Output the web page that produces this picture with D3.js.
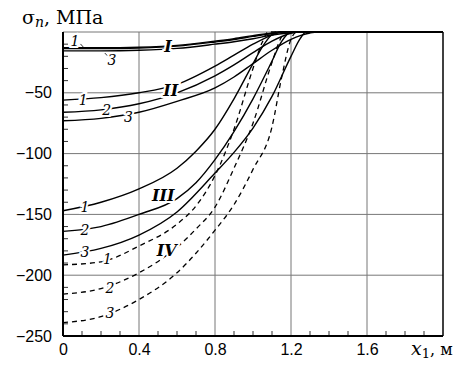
<!DOCTYPE html>
<html>
<head>
<meta charset="utf-8">
<script src="https://cdn.jsdelivr.net/npm/d3@7"></script>
<style>
  body { margin: 0; background: #fff; }
  svg { display: block; }
</style>
</head>
<body>
<svg id="chart" width="466" height="369"></svg>
<script>
// tick labels
const xTicks = [0, 0.4, 0.8, 1.2, 1.6];
const yTicks = [-50, -100, -150, -200, -250];

// curves: [x1, sigma_n]
const curveI1 = [[0,-13],[0.2,-13],[0.4,-12.5],[0.6,-11],[0.8,-7.5],[0.9,-5.5],[1.0,-3],[1.1,-0.8],[1.15,0],[2,0]];
const curveI2 = [[0,-13.6],[0.2,-13.6],[0.4,-13.1],[0.6,-11.6],[0.8,-8.2],[0.9,-6.2],[1.0,-3.6],[1.1,-1.2],[1.17,0],[2,0]];
const curveI3 = [[0,-15.5],[0.2,-15.5],[0.4,-15],[0.6,-13.5],[0.8,-10],[0.9,-8],[1.0,-5.5],[1.1,-2.5],[1.2,-0.6],[1.25,0],[2,0]];

const curveII1 = [[0,-56],[0.2,-54],[0.4,-50],[0.6,-43],[0.8,-28],[0.9,-19],[1.0,-10],[1.1,-2.5],[1.15,0],[2,0]];
const curveII2 = [[0,-66],[0.2,-64],[0.4,-59],[0.6,-50],[0.8,-36],[0.9,-27],[1.0,-17],[1.1,-7.5],[1.2,-1],[1.24,0],[2,0]];
const curveII3 = [[0,-73],[0.2,-71],[0.4,-66],[0.6,-57],[0.8,-46],[0.9,-37],[1.0,-26],[1.1,-15],[1.2,-6],[1.3,-0.8],[1.34,0],[2,0]];

const curveIII1 = [[0,-147],[0.2,-140],[0.4,-129],[0.6,-112],[0.7,-98],[0.8,-80],[0.9,-55],[1.0,-26],[1.05,-12],[1.1,-2],[1.12,0],[2,0]];
const curveIII2 = [[0,-164],[0.2,-160],[0.4,-150],[0.6,-137],[0.7,-124],[0.8,-105],[0.9,-82],[1.0,-55],[1.1,-24],[1.15,-8],[1.2,0],[2,0]];
const curveIII3 = [[0,-183.5],[0.2,-178],[0.4,-167],[0.6,-148],[0.8,-116],[0.9,-99],[1.0,-79],[1.1,-53],[1.2,-20],[1.25,-5],[1.28,0],[2,0]];

const curveIV1 = [[0,-191.5],[0.2,-189],[0.4,-176],[0.6,-158],[0.7,-143],[0.8,-118],[0.9,-80],[1.0,-30],[1.05,-8],[1.08,0],[2,0]];
const curveIV2 = [[0,-215.5],[0.2,-211],[0.4,-198],[0.6,-177],[0.7,-162],[0.8,-144],[0.9,-112],[1.0,-75],[1.1,-25],[1.15,-4],[1.17,0],[2,0]];
const curveIV3 = [[0,-239],[0.2,-234],[0.4,-220],[0.6,-198],[0.8,-163],[0.9,-142],[1.0,-113],[1.1,-78],[1.15,-38],[1.2,-6],[1.23,0],[2,0]];

const solidCurves = [curveI1, curveI2, curveI3, curveII1, curveII2, curveII3, curveIII1, curveIII2, curveIII3];
const dashedCurves = [curveIV1, curveIV2, curveIV3];

// curve number labels [x1, sigma, text]
const numLabels = [
  [0.063,-7.6,'1'], [0.258,-23,'3'],
  [0.107,-55.9,'1'], [0.23,-64.1,'2'], [0.344,-70.1,'3'],
  [0.116,-143.7,'1'], [0.116,-162.8,'2'], [0.116,-180.7,'3'],
  [0.234,-186.7,'1'], [0.247,-210.8,'2'], [0.247,-231.3,'3']
];
const groupLabels = [
  [0.553,-11.9,'I'], [0.567,-48.3,'II'], [0.528,-134,'III'], [0.546,-179.3,'IV']
];
// short leaders from labels to curves
const leaders = [
  [[0.092,-9.8],[0.108,-12.6]],
  [[0.22,-17.3],[0.234,-19.6]]
];

const serif = "'DejaVu Serif', 'Liberation Serif', serif";
const sans = "'Liberation Sans', Arial, sans-serif";

const margin = { top: 32, right: 23, bottom: 33, left: 63 };
const width = 466 - margin.left - margin.right,
      height = 369 - margin.top - margin.bottom;

const svg = d3.select('#chart');
const g = svg.append('g').attr('transform', `translate(${margin.left},${margin.top})`);

const x = d3.scaleLinear().domain([0, 2]).range([0, width]);
const y = d3.scaleLinear().domain([-250, 0]).range([height, 0]);

// grid
g.append('g')
  .selectAll('line')
  .data([0.4, 0.8, 1.2, 1.6])
  .enter().append('line')
  .attr('x1', d => x(d)).attr('x2', d => x(d))
  .attr('y1', 0).attr('y2', height)
  .attr('stroke', '#777').attr('stroke-width', 1);
g.append('g')
  .selectAll('line')
  .data([0, -50, -100, -150, -200])
  .enter().append('line')
  .attr('x1', 0).attr('x2', width)
  .attr('y1', d => y(d)).attr('y2', d => y(d))
  .attr('stroke', '#777').attr('stroke-width', 1);

// minor ticks, pointing inward
const yMinor = d3.range(-240, 0, 10).filter(v => v % 50 !== 0);
g.append('g')
  .selectAll('line')
  .data(yMinor)
  .enter().append('line')
  .attr('x1', 0).attr('x2', 5)
  .attr('y1', d => y(d)).attr('y2', d => y(d))
  .attr('stroke', '#333');
const xMinor = d3.range(1, 20).map(v => v / 10).filter(v => Math.round(v * 10) % 4 !== 0);
g.append('g')
  .selectAll('line')
  .data(xMinor)
  .enter().append('line')
  .attr('x1', d => x(d)).attr('x2', d => x(d))
  .attr('y1', height).attr('y2', height - 5)
  .attr('stroke', '#333');

// axes
const xAxis = d3.axisBottom(x).tickValues(xTicks).tickSize(0).tickPadding(8).tickFormat(d3.format('.1~f'));
const yAxis = d3.axisLeft(y).tickValues(yTicks).tickSize(0).tickPadding(11);
g.append('g').attr('transform', `translate(0,${height})`).call(xAxis)
  .call(a => a.select('.domain').remove())
  .selectAll('text').attr('font-family', sans).attr('font-size', 16).attr('fill', '#000');
g.append('g').call(yAxis)
  .call(a => a.select('.domain').remove())
  .selectAll('text').attr('font-family', sans).attr('font-size', 16).attr('fill', '#000');

// frame
g.append('line').attr('x1', 0).attr('x2', 0).attr('y1', 0).attr('y2', height).attr('stroke', '#000').attr('stroke-width', 2);
g.append('line').attr('x1', 0).attr('x2', width).attr('y1', height).attr('y2', height).attr('stroke', '#000').attr('stroke-width', 2);
g.append('line').attr('x1', width).attr('x2', width).attr('y1', 0).attr('y2', height).attr('stroke', '#000').attr('stroke-width', 1.5);

// curves
const line = d3.line().x(d => x(d[0])).y(d => y(d[1])).curve(d3.curveMonotoneX);
g.append('g').selectAll('path')
  .data(solidCurves)
  .enter().append('path')
  .attr('d', line)
  .attr('fill', 'none').attr('stroke', '#000').attr('stroke-width', 1.4);
g.append('g').selectAll('path')
  .data(dashedCurves)
  .enter().append('path')
  .attr('d', line)
  .attr('fill', 'none').attr('stroke', '#000').attr('stroke-width', 1.3)
  .attr('stroke-dasharray', '5,4');

// leaders
g.append('g').selectAll('line')
  .data(leaders)
  .enter().append('line')
  .attr('x1', d => x(d[0][0])).attr('y1', d => y(d[0][1]))
  .attr('x2', d => x(d[1][0])).attr('y2', d => y(d[1][1]))
  .attr('stroke', '#000').attr('stroke-width', 0.8);

// labels with white halo that breaks the curves
g.append('g').selectAll('text')
  .data(numLabels)
  .enter().append('text')
  .attr('x', d => x(d[0])).attr('y', d => y(d[1]))
  .attr('dy', '0.35em')
  .attr('text-anchor', 'middle')
  .attr('font-family', serif)
  .attr('font-style', 'italic')
  .attr('font-size', 14)
  .attr('stroke', '#fff').attr('stroke-width', 4).attr('paint-order', 'stroke')
  .text(d => d[2]);
g.append('g').selectAll('text')
  .data(groupLabels)
  .enter().append('text')
  .attr('x', d => x(d[0])).attr('y', d => y(d[1]))
  .attr('dy', '0.35em')
  .attr('text-anchor', 'middle')
  .attr('font-family', serif)
  .attr('font-style', 'italic')
  .attr('font-weight', 'bold')
  .attr('font-size', 16)
  .attr('stroke', '#fff').attr('stroke-width', 4).attr('paint-order', 'stroke')
  .text(d => d[2]);

// axis titles
const yTitle = svg.append('text')
  .attr('x', 22).attr('y', 24)
  .attr('font-family', serif)
  .attr('font-size', 19);
yTitle.append('tspan').text('σ');
yTitle.append('tspan').attr('font-style', 'italic').attr('font-size', 14).attr('dy', 3).text('n');
yTitle.append('tspan').attr('dy', -3).text(', МПа');

const xTitle = svg.append('text')
  .attr('x', 411).attr('y', 355)
  .attr('font-family', serif)
  .attr('font-size', 19);
xTitle.append('tspan').attr('font-style', 'italic').text('x');
xTitle.append('tspan').attr('font-size', 13).attr('dy', 3).text('1');
xTitle.append('tspan').attr('dy', -3).attr('font-size', 16).text(', м');
</script>
</body>
</html>
